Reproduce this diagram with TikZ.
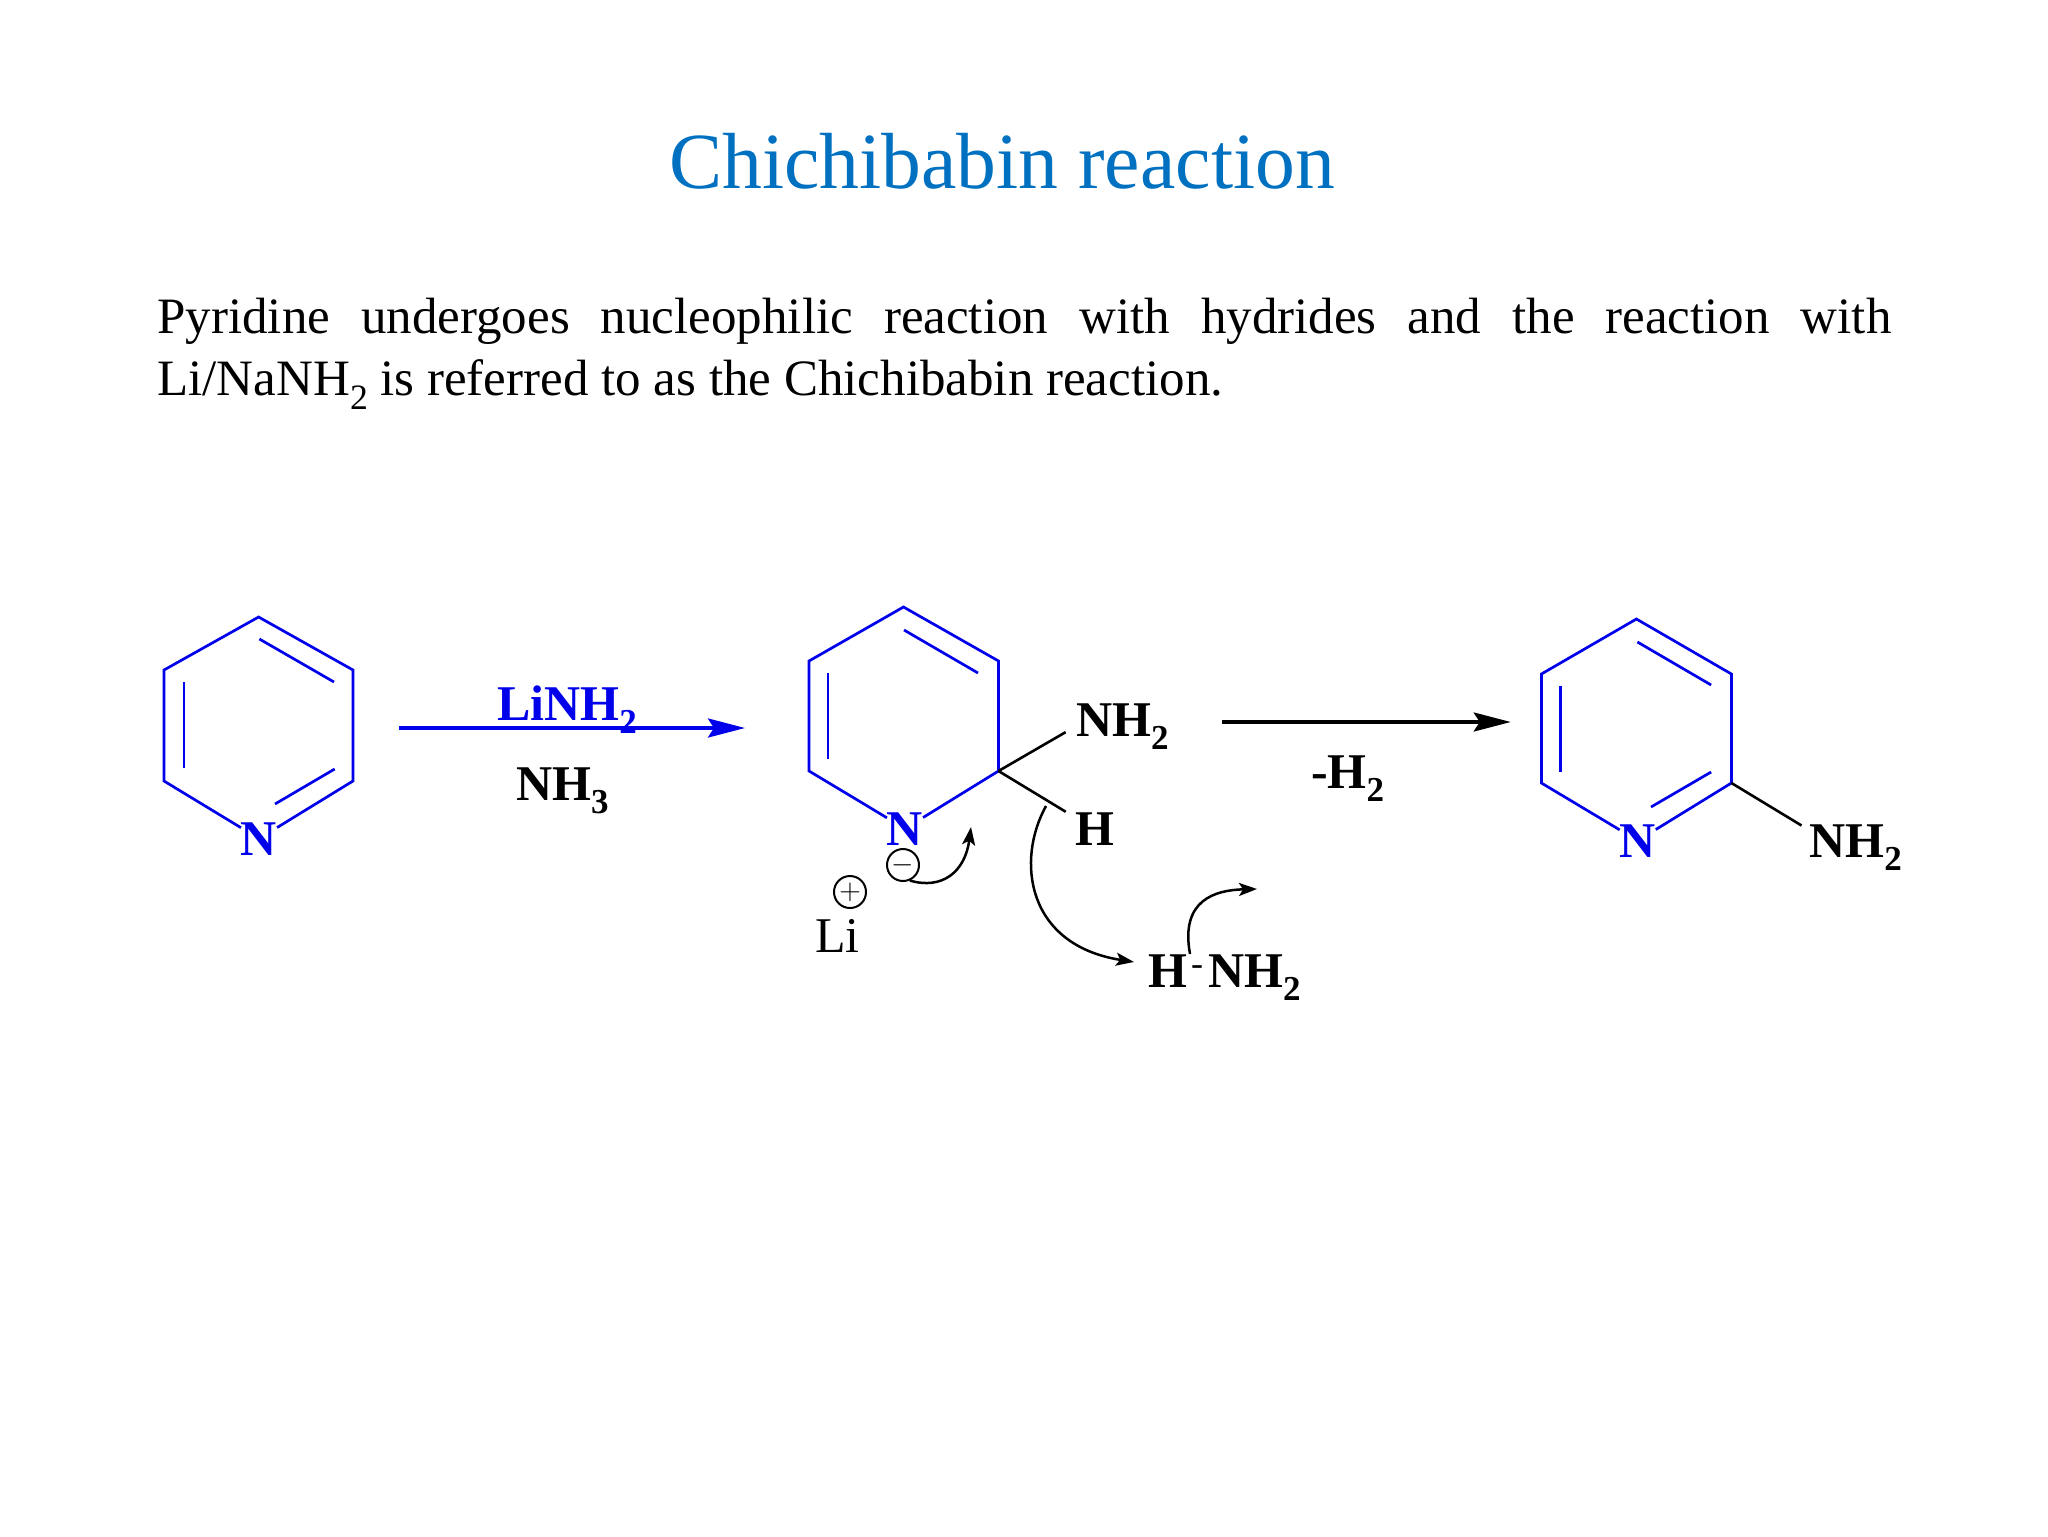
\documentclass[tikz,border=0pt]{standalone}
\usepackage{fontspec}
\setmainfont{Liberation Serif}
\usetikzlibrary{arrows.meta}
\definecolor{titleblue}{RGB}{0,112,192}
\definecolor{ringblue}{RGB}{0,0,235}
\newcommand{\chemsub}[1]{\raisebox{-0.26em}{\scalebox{0.7}{#1}}}
\tikzset{
  ring/.style={draw=ringblue,line width=1.35pt,line join=miter},
  bond/.style={draw=black,line width=1.3pt},
  atom/.style={inner sep=0pt,outer sep=0pt,anchor=base west,font=\fontsize{25}{25}\selectfont\bfseries},
  ringatom/.style={atom,anchor=base,text=ringblue},
  charge/.style={circle,draw=black,line width=1pt,inner sep=0pt,minimum size=16pt,font=\fontsize{15}{15}\selectfont},
  rxnarrow/.style={-{Stealth[length=18.5pt,width=9.5pt,inset=3pt]}},
  pusharrow/.style={draw=black,line width=1.25pt,-{Stealth[length=9pt,width=6.5pt,inset=2pt]}}
}
\begin{document}
\begin{tikzpicture}[x=0.5pt,y=-0.5pt]
  \useasboundingbox (0,0) rectangle (2048,1536);

  % texts
  \node[inner sep=0pt,anchor=base west,text=titleblue,font=\fontsize{39.8}{40}\selectfont] (title) at (669,188) {Chichibabin reaction};
  \node[inner sep=0pt,anchor=north west,text width=867pt,align=justify,font=\fontsize{25.5}{31}\selectfont] (intro) at (157,298)
    {Pyridine undergoes nucleophilic reaction with hydrides and the reaction with\linebreak Li/NaNH\chemsub{2} is referred to as the Chichibabin reaction.};

  % pyridine
  \node[ringatom] (Na) at (259,855) {N};
  \coordinate (a1) at (258.6,617);
  \coordinate (a2) at (353,670);
  \coordinate (a3) at (353,781);
  \coordinate (a4) at (164,781);
  \coordinate (a5) at (164,670);
  \draw[ring] (Na) -- (a4) -- (a5) -- (a1) -- (a2) -- (a3) -- (Na);
  \coordinate (a6) at (259.4,639);
  \coordinate (a7) at (334,682);
  \coordinate (a8) at (184,682);
  \coordinate (a9) at (184,768);
  \coordinate (a10) at (334.7,769);
  \coordinate (a11) at (275,804);
  \draw[ring] (a6) -- (a7);
  \draw[ring] (a8) -- (a9);
  \draw[ring] (a10) -- (a11);

  % first step
  \coordinate (s1) at (399,728);
  \coordinate (s2) at (745,728);
  \draw[rxnarrow,draw=ringblue,fill=ringblue,line width=1.8pt] (s1) -- (s2);
  \node[atom,text=ringblue] (LiNH) at (497,720) {LiNH\chemsub{2}};
  \node[atom] (NHc) at (516,800.5) {NH\chemsub{3}};

  % adduct
  \node[ringatom] (Nb) at (905,845) {N};
  \coordinate (b1) at (903.5,607);
  \coordinate (b2) at (998.5,661);
  \coordinate (b3) at (998.5,771);
  \coordinate (b4) at (809,771);
  \coordinate (b5) at (809,661);
  \draw[ring] (Nb) -- (b4) -- (b5) -- (b1) -- (b2) -- (b3) -- (Nb);
  \coordinate (b6) at (904,630);
  \coordinate (b7) at (978,673);
  \coordinate (b8) at (828,673);
  \coordinate (b9) at (828,759);
  \draw[ring] (b6) -- (b7);
  \draw[ring] (b8) -- (b9);
  \node[atom] (NHb) at (1076,736) {NH\chemsub{2}};
  \node[atom] (Hb) at (1075,845) {H};
  \draw[bond,shorten >=6pt] (b3) -- (NHb.west);
  \draw[bond,shorten >=5.4pt] (b3) -- (Hb.150);
  \node[charge] (minus) at (903,865) {$-$};
  \node[charge] (plus) at (850,892) {$+$};
  \node[atom,font=\fontsize{25}{25}\selectfont] (Li) at (815,952) {Li};

  % electron pushing
  \node[atom] (Ha) at (1148,987) {H};
  \node[inner sep=0pt,anchor=base,font=\fontsize{18}{18}\selectfont] (dash) at (1197,975) {-};
  \node[atom] (NHa) at (1208,987) {NH\chemsub{2}};
  \coordinate (c1) at (971,827);
  \draw[pusharrow] (minus.-66) .. controls (942,890) and (965,872) .. (c1);
  \coordinate (c2) at (1046,806);
  \coordinate (c3) at (1134,962);
  \draw[pusharrow] (c2) .. controls (1016,860) and (1026,945) .. (c3);
  \coordinate (c4) at (1190,954);
  \coordinate (c5) at (1257,889);
  \draw[pusharrow] (c4) .. controls (1180,900) and (1215,890) .. (c5);

  % second step
  \coordinate (s3) at (1222,722);
  \coordinate (s4) at (1510.7,722);
  \draw[rxnarrow,fill=black,line width=1.6pt] (s3) -- (s4);
  \node[atom] (lossH) at (1311,788) {-H\chemsub{2}};

  % product
  \node[ringatom] (Nc) at (1637.7,857) {N};
  \coordinate (p1) at (1636.4,619);
  \coordinate (p2) at (1731.4,674);
  \coordinate (p3) at (1731.4,783);
  \coordinate (p4) at (1541.4,783);
  \coordinate (p5) at (1541.4,674);
  \draw[ring] (Nc) -- (p4) -- (p5) -- (p1) -- (p2) -- (p3) -- (Nc);
  \coordinate (p6) at (1637.4,642);
  \coordinate (p7) at (1711.1,685);
  \coordinate (p8) at (1560.8,686);
  \coordinate (p9) at (1560.8,772);
  \coordinate (p10) at (1711.1,772);
  \coordinate (p11) at (1651,807);
  \draw[ring] (p6) -- (p7);
  \draw[ring] (p8) -- (p9);
  \draw[ring] (p10) -- (p11);
  \node[atom] (NHp) at (1809.4,857) {NH\chemsub{2}};
  \draw[bond,shorten >=4.6pt] (p3) -- (NHp.160);
\end{tikzpicture}
\end{document}
